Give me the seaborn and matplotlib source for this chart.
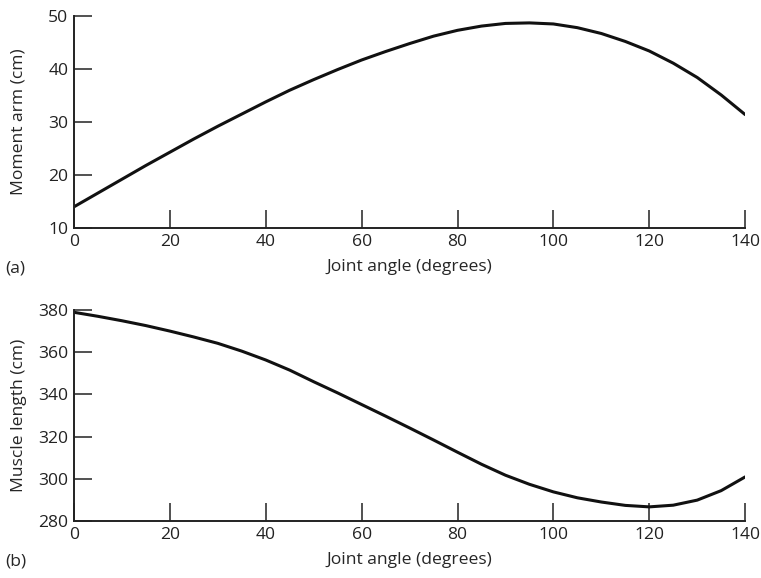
import numpy as np
import pandas as pd
import matplotlib.pyplot as plt
import seaborn as sns

# Joint angle data (every 5 degrees)
angle = [0, 5, 10, 15, 20, 25, 30, 35, 40, 45, 50, 55, 60, 65, 70,
         75, 80, 85, 90, 95, 100, 105, 110, 115, 120, 125, 130, 135, 140]
moment_arm = [14.0, 16.6, 19.2, 21.8, 24.3, 26.8, 29.2, 31.5, 33.8, 36.0, 38.0, 39.9, 41.7, 43.3, 44.8,
              46.2, 47.3, 48.1, 48.6, 48.7, 48.5, 47.8, 46.7, 45.2, 43.4, 41.1, 38.4, 35.1, 31.4]
muscle_length = [378.9, 377.0, 374.9, 372.6, 370.0, 367.2, 364.2, 360.5, 356.3, 351.5, 346.0, 340.7, 335.2, 329.7, 324.1,
                 318.4, 312.6, 306.9, 301.7, 297.4, 293.8, 291.0, 289.0, 287.4, 286.7, 287.5, 289.9, 294.4, 300.9]

df = pd.DataFrame({'angle': angle, 'moment': moment_arm, 'length': muscle_length})

sns.set_style('ticks')
plt.rcParams['font.family'] = ['Open Sans', 'DejaVu Sans']
plt.rcParams['axes.edgecolor'] = '#222222'
plt.rcParams['xtick.color'] = '#222222'
plt.rcParams['ytick.color'] = '#222222'

fs = 12.6
fig = plt.figure(figsize=(7.61, 5.78), dpi=100)
ax1 = fig.add_axes([0.0972, 0.6055, 0.882, 0.3668])
ax2 = fig.add_axes([0.0972, 0.0986, 0.882, 0.3651])

# -------------------------------
# (a) moment arm
sns.lineplot(x='angle', y='moment', data=df, ax=ax1, color='#111111', linewidth=2.2)
ax1.set_xlim(0, 140)
ax1.set_ylim(10, 50)
ax1.set_yticks([10, 20, 30, 40, 50])
ax1.set_ylabel('Moment arm (cm)', fontsize=fs)

# -------------------------------
# (b) muscle length
sns.lineplot(x='angle', y='length', data=df, ax=ax2, color='#111111', linewidth=2.2)
ax2.set_xlim(0, 140)
ax2.set_ylim(280, 380)
ax2.set_yticks([280, 300, 320, 340, 360, 380])
ax2.set_ylabel('Muscle length (cm)', fontsize=fs)

for ax, tag in [(ax1, '(a)'), (ax2, '(b)')]:
    sns.despine(ax=ax)
    ax.set_xticks(range(0, 141, 20))
    ax.tick_params(direction='in', length=13, width=1.1, labelsize=fs, pad=4)
    ax.set_xlabel('Joint angle (degrees)', fontsize=fs, labelpad=7)
    ax.yaxis.set_label_coords(-0.07, 0.5)
    for s in ['left', 'bottom']:
        ax.spines[s].set_linewidth(1.4)
    ax.text(-0.103, -0.19, tag, transform=ax.transAxes, fontsize=fs, va='center')

fig.savefig('out.png', dpi=100)
